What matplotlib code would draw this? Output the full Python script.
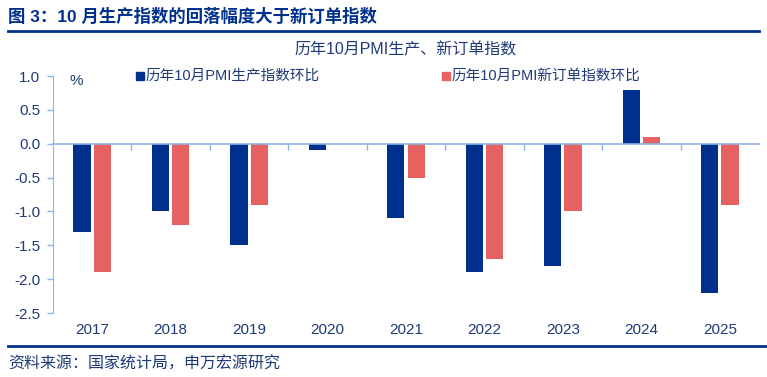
import matplotlib.pyplot as plt
import matplotlib.transforms as mtransforms
from matplotlib.lines import Line2D
from matplotlib.patches import Rectangle
import numpy as np

plt.rcParams['font.family'] = ['Liberation Sans', 'Noto Sans CJK SC', 'DejaVu Sans']

years = ["2017", "2018", "2019", "2020", "2021", "2022", "2023", "2024", "2025"]
production = [-1.3, -1.0, -1.5, -0.1, -1.1, -1.9, -1.8, 0.8, -2.2]
new_orders = [-1.9, -1.2, -0.9, 0.0, -0.5, -1.7, -1.0, 0.1, -0.9]

navy = "#00308E"
red = "#E66161"
axis_blue = "#8DB4E2"
text_col = "#1F3A78"

fig = plt.figure(figsize=(7.67, 3.77), dpi=100)
ax = fig.add_axes([53 / 767, 1 - 313 / 377, 706 / 767, 237 / 377])

x = np.arange(len(years))
w = 0.22
ax.bar(x - 0.13, production, width=w, color=navy)
ax.bar(x + 0.13, new_orders, width=w, color=red)

ax.set_xlim(-0.5, len(years) - 0.5)
ax.set_ylim(-2.5, 1.0)
ax.set_yticks(np.arange(-2.5, 1.01, 0.5))
ax.set_yticklabels([f"{v:.1f}" for v in np.arange(-2.5, 1.01, 0.5)])
ax.tick_params(axis="y", colors=axis_blue, labelcolor=text_col, labelsize=11,
               length=4, width=1, direction="out", pad=5)

for s in ["top", "right"]:
    ax.spines[s].set_visible(False)
ax.spines["left"].set_color(axis_blue)
ax.spines["bottom"].set_color(axis_blue)
ax.spines["bottom"].set_position(("data", 0))
ax.spines["bottom"].set_linewidth(1.2)

ax.set_xticks(np.arange(0.5, len(years) - 0.5, 1.0))
ax.set_xticklabels([])
ax.tick_params(axis="x", colors=axis_blue, length=4, width=1, direction="out")

trans = mtransforms.blended_transform_factory(ax.transData, ax.transAxes)
for xi, yr in zip(x, years):
    ax.text(xi, -0.07, yr, transform=trans, ha="center", va="center",
            fontsize=11, color=text_col)

ax.text(0.024, 0.98, "%", transform=ax.transAxes, ha="left", va="center",
        fontsize=11, color=text_col)

# legend
fig.patches.append(Rectangle((136 / 767, 1 - 80 / 377), 8 / 767, 8 / 377,
                             transform=fig.transFigure, color=navy))
fig.text(145 / 767, 1 - 76 / 377, "历年10月PMI生产指数环比", ha="left", va="center",
         fontsize=10.5, color=text_col)
fig.patches.append(Rectangle((442 / 767, 1 - 80 / 377), 8 / 767, 8 / 377,
                             transform=fig.transFigure, color=red))
fig.text(451 / 767, 1 - 76 / 377, "历年10月PMI新订单指数环比", ha="left", va="center",
         fontsize=10.5, color=text_col)

# titles
fig.text(8 / 767, 1 - 16 / 377, "图 3：10 月生产指数的回落幅度大于新订单指数", ha="left",
         va="center", fontsize=12.5, fontweight="bold", color=navy)
fig.add_artist(Line2D([8 / 767, 759 / 767], [1 - 31 / 377, 1 - 31 / 377],
                      transform=fig.transFigure, color=navy, lw=2))
fig.text(406 / 767, 1 - 50 / 377, "历年10月PMI生产、新订单指数", ha="center", va="center",
         fontsize=11.5, color=text_col)

fig.add_artist(Line2D([8 / 767, 767 / 767], [1 - 346 / 377, 1 - 346 / 377],
                      transform=fig.transFigure, color=navy, lw=2))
fig.text(8 / 767, 1 - 364 / 377, "资料来源：国家统计局，申万宏源研究", ha="left", va="center",
         fontsize=11.5, color=text_col)

fig.savefig("out.png", dpi=100)
